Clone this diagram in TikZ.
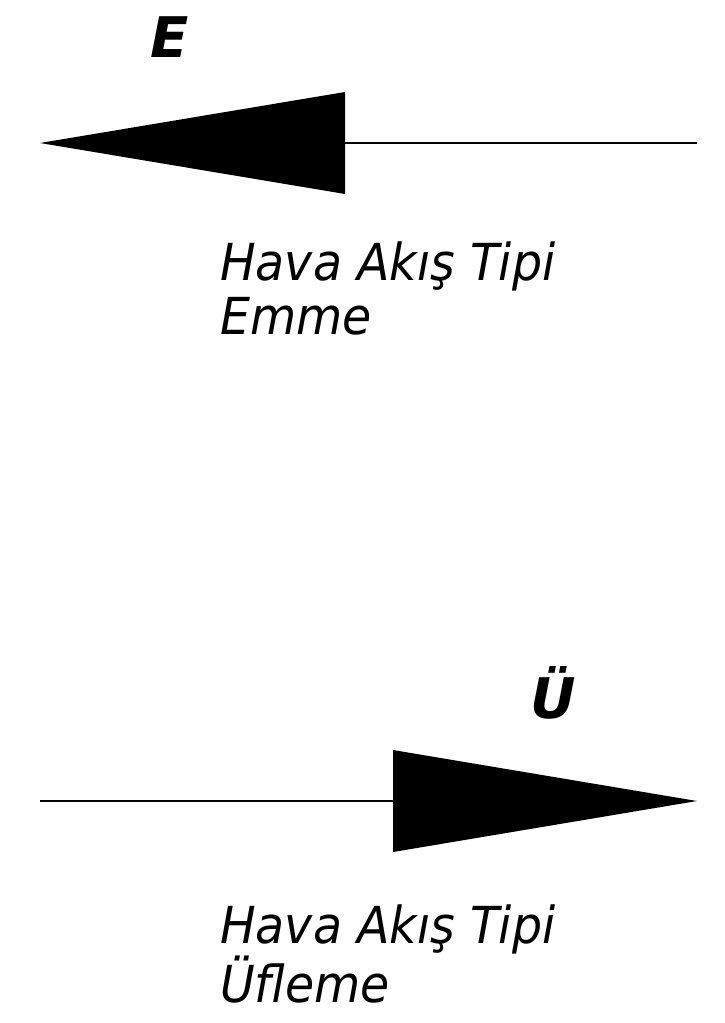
\documentclass[tikz,border=0pt]{standalone}
\usepackage{fontspec}
\setmainfont{DejaVu Sans}
\newfontfamily\lblfont[FakeStretch=0.93]{DejaVu Sans}
\begin{document}
\begin{tikzpicture}[x=1pt,y=-1pt,
  lbl/.style={font=\lblfont\fontsize{51}{54}\selectfont\itshape, align=left, inner sep=0pt, anchor=base west},
  big/.style={font=\fontsize{56}{60}\selectfont\bfseries\itshape, inner sep=0pt, anchor=base},
  ln/.style={line width=2pt},
  tri/.style={fill=black}]
\useasboundingbox (0,0) rectangle (725,1023);
% top arrow (Emme)
\coordinate (t1tip) at (40,143);
\coordinate (t1a) at (345,92);
\coordinate (t1b) at (345,194);
\coordinate (t1base) at (345,143);
\coordinate (t1end) at (697,143);
\fill[tri] (t1tip) -- (t1a) -- (t1b) -- cycle;
\draw[ln] (t1base) -- (t1end);
\node[big] (E) at (170,57) {E};
\node[lbl] (l1) at (220,334) {Hava Akış Tipi\\Emme};
% bottom arrow (Üfleme)
\coordinate (t2start) at (40,801);
\coordinate (t2base) at (393,801);
\coordinate (t2a) at (393,750);
\coordinate (t2b) at (393,852);
\coordinate (t2tip) at (697,801);
\fill[tri] (t2tip) -- (t2a) -- (t2b) -- cycle;
\draw[ln] (t2start) -- (t2base);
\node[big] (U) at (553,718) {Ü};
\node[lbl] (l2) at (220,1002) {Hava Akış Tipi\\Üfleme};
\end{tikzpicture}
\end{document}
